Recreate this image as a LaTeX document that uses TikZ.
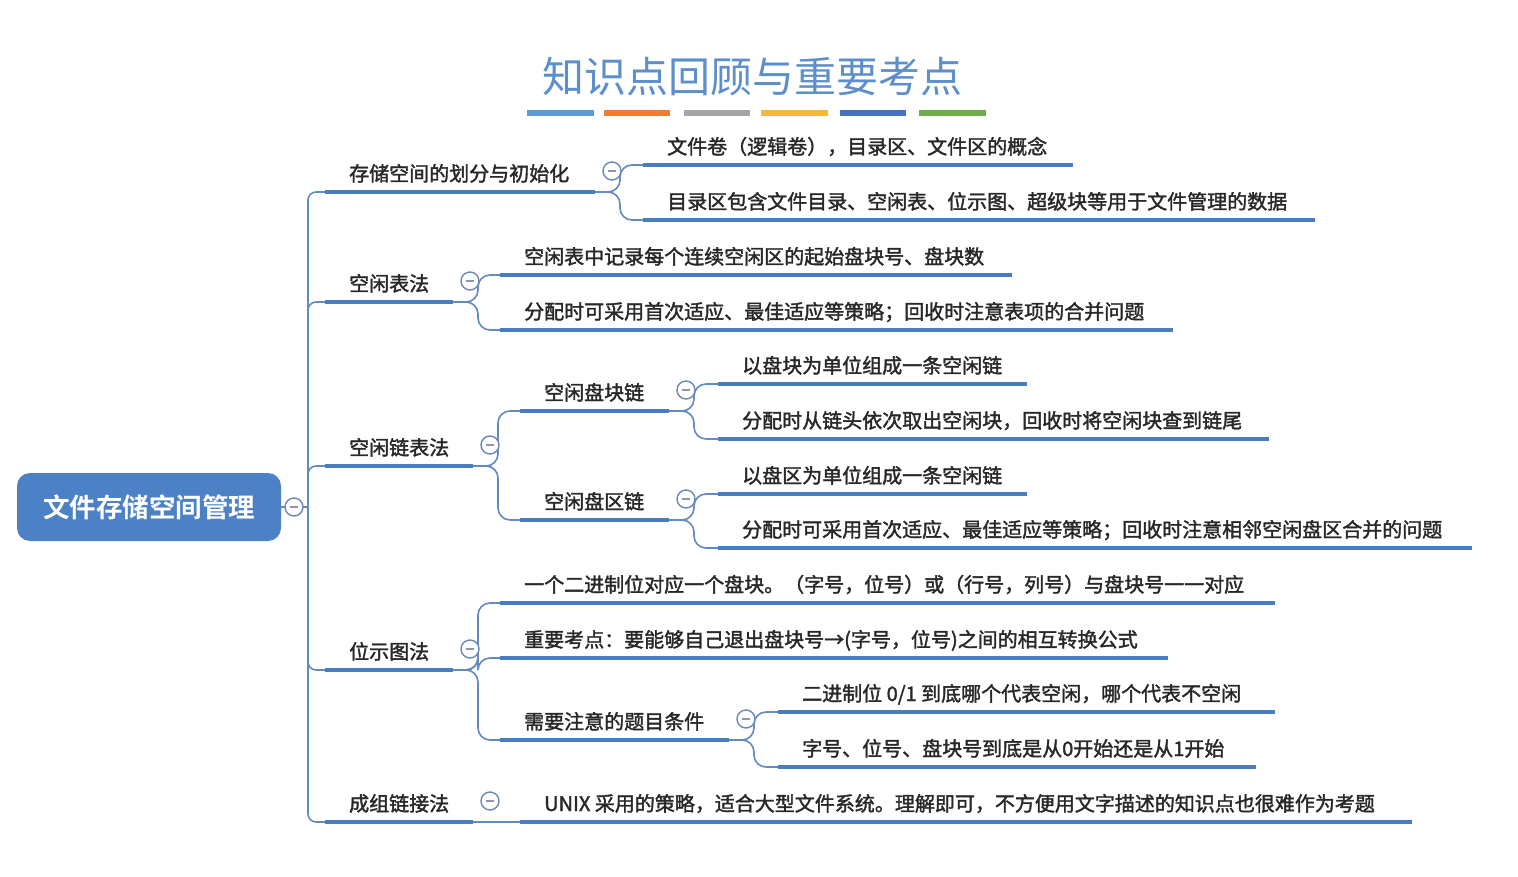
\documentclass[tikz,border=0pt]{standalone}
\usepackage{fontspec}
\setmainfont{Noto Sans CJK SC}
\newfontfamily\cjkbody[RawFeature={embolden=1.8}]{Noto Sans CJK SC}
\newfontfamily\cjkbold[BoldFont={* Bold}]{Noto Sans CJK SC}
\definecolor{rootblue}{RGB}{76,129,198}
\definecolor{ublue}{RGB}{74,124,192}
\definecolor{cblue}{RGB}{100,138,196}
\definecolor{circ}{RGB}{110,135,185}
\definecolor{minusc}{RGB}{140,150,172}
\definecolor{txt}{RGB}{40,40,40}
\definecolor{titleblue}{RGB}{92,143,204}
\definecolor{barA}{RGB}{91,155,213}
\definecolor{barB}{RGB}{237,125,49}
\definecolor{barC}{RGB}{165,165,165}
\definecolor{barD}{RGB}{247,183,55}
\definecolor{barE}{RGB}{68,114,196}
\definecolor{barF}{RGB}{112,173,71}
\tikzset{
  topictext/.style={anchor=base west, inner sep=0pt, text=txt, font=\cjkbody\fontsize{20}{24}\selectfont},
  uline/.style={draw=ublue, line width=4.5pt},
  conn/.style={draw=cblue, line width=1.6pt},
  fork/.style={conn, rounded corners=12pt},
  collapse/.style={circle, draw=circ, line width=1.4pt, fill=white, minimum size=18pt, inner sep=0pt},
  minusbar/.style={draw=minusc, line width=1.4pt},
  bar/.style={line width=6pt},
}
\newcommand\mtopic[5]{%
  \coordinate (#1-s) at (#2,#4);
  \coordinate (#1-e) at (#3,#4);
  \node[topictext] (#1) at ({#2+24},{#4-11}) {#5};
  \draw[uline] (#1-s) -- (#1-e);
}
\newcommand\mcollapse[2]{%
  \node[collapse] (#1) at ([xshift=17pt,yshift=21pt]#2-e) {};
  \draw[minusbar] ([xshift=-4pt]#1.center) -- ([xshift=4pt]#1.center);
}
\newcommand\mfork[2]{%
  \draw[fork] (#1-e) -- ([xshift=25pt]#1-e) |- (#2-s);
}
\begin{document}
\begin{tikzpicture}[x=1pt,y=-1pt]
\useasboundingbox[fill=white] (0,0) rectangle (1518,877);

% title
\node[anchor=base, inner sep=0pt, text=titleblue, font=\fontsize{42}{46}\selectfont] (title) at (752,93) {知识点回顾与重要考点};
\coordinate (b1s) at (527,113); \coordinate (b1e) at (594,113);
\coordinate (b2s) at (604,113); \coordinate (b2e) at (670,113);
\coordinate (b3s) at (684,113); \coordinate (b3e) at (750,113);
\coordinate (b4s) at (761,113); \coordinate (b4e) at (828,113);
\coordinate (b5s) at (840,113); \coordinate (b5e) at (906,113);
\coordinate (b6s) at (919,113); \coordinate (b6e) at (986,113);
\draw[bar, barA] (b1s) -- (b1e);
\draw[bar, barB] (b2s) -- (b2e);
\draw[bar, barC] (b3s) -- (b3e);
\draw[bar, barD] (b4s) -- (b4e);
\draw[bar, barE] (b5s) -- (b5e);
\draw[bar, barF] (b6s) -- (b6e);

% root
\node[rectangle, rounded corners=13pt, fill=rootblue, minimum width=264pt, minimum height=68pt, inner sep=0pt,
      text=white, font=\cjkbold\bfseries\fontsize{26.5}{30}\selectfont] (root) at (149,507) {文件存储空间管理};
\coordinate (fork0) at (308,507);
\draw[conn] (root.east) -- (fork0);
\node[collapse] (rc) at (294,507) {};
\draw[minusbar] ([xshift=-4pt]rc.center) -- ([xshift=4pt]rc.center);

% level 1
\mtopic{A}{325}{595}{192}{存储空间的划分与初始化}
\mtopic{B}{325}{453}{302}{空闲表法}
\mtopic{C}{325}{473}{466}{空闲链表法}
\mtopic{D}{325}{453}{670}{位示图法}
\mtopic{E}{325}{473}{822}{成组链接法}
\foreach \n in {A,B,C,D,E} {\draw[conn, rounded corners=8pt] (fork0) |- (\n-s);}

% A children
\mtopic{A1}{643}{1073}{165}{文件卷（逻辑卷），目录区、文件区的概念}
\mtopic{A2}{643}{1315}{220}{目录区包含文件目录、空闲表、位示图、超级块等用于文件管理的数据}
\mfork{A}{A1}\mfork{A}{A2}
\mcollapse{Ac}{A}

% B children
\mtopic{B1}{500}{1012}{275}{空闲表中记录每个连续空闲区的起始盘块号、盘块数}
\mtopic{B2}{500}{1173}{330}{分配时可采用首次适应、最佳适应等策略；回收时注意表项的合并问题}
\mfork{B}{B1}\mfork{B}{B2}
\mcollapse{Bc}{B}

% C children
\mtopic{C1}{520}{669}{411}{空闲盘块链}
\mtopic{C2}{520}{669}{520}{空闲盘区链}
\mfork{C}{C1}\mfork{C}{C2}
\mcollapse{Cc}{C}
\mtopic{C11}{718}{1027}{384}{以盘块为单位组成一条空闲链}
\mtopic{C12}{718}{1269}{439}{分配时从链头依次取出空闲块，回收时将空闲块查到链尾}
\mfork{C1}{C11}\mfork{C1}{C12}
\mcollapse{C1c}{C1}
\mtopic{C21}{718}{1027}{494}{以盘区为单位组成一条空闲链}
\mtopic{C22}{718}{1472}{548}{分配时可采用首次适应、最佳适应等策略；回收时注意相邻空闲盘区合并的问题}
\mfork{C2}{C21}\mfork{C2}{C22}
\mcollapse{C2c}{C2}

% D children
\mtopic{D1}{500}{1275}{603}{一个二进制位对应一个盘块。（字号，位号）或（行号，列号）与盘块号一一对应}
\mtopic{D2}{500}{1168}{658}{重要考点：要能够自己退出盘块号→(字号，位号)之间的相互转换公式}
\mtopic{D3}{500}{729}{740}{需要注意的题目条件}
\mfork{D}{D1}\mfork{D}{D2}\mfork{D}{D3}
\mcollapse{Dc}{D}
\mtopic{D31}{778}{1275}{712}{二进制位 0/1 到底哪个代表空闲，哪个代表不空闲}
\mtopic{D32}{778}{1256}{767}{字号、位号、盘块号到底是从0开始还是从1开始}
\mfork{D3}{D31}\mfork{D3}{D32}
\mcollapse{D3c}{D3}

% E child
\mtopic{E1}{520}{1412}{822}{UNIX 采用的策略，适合大型文件系统。理解即可，不方便用文字描述的知识点也很难作为考题}
\draw[conn] (E-e) -- (E1-s);
\mcollapse{Ec}{E}
\end{tikzpicture}
\end{document}
